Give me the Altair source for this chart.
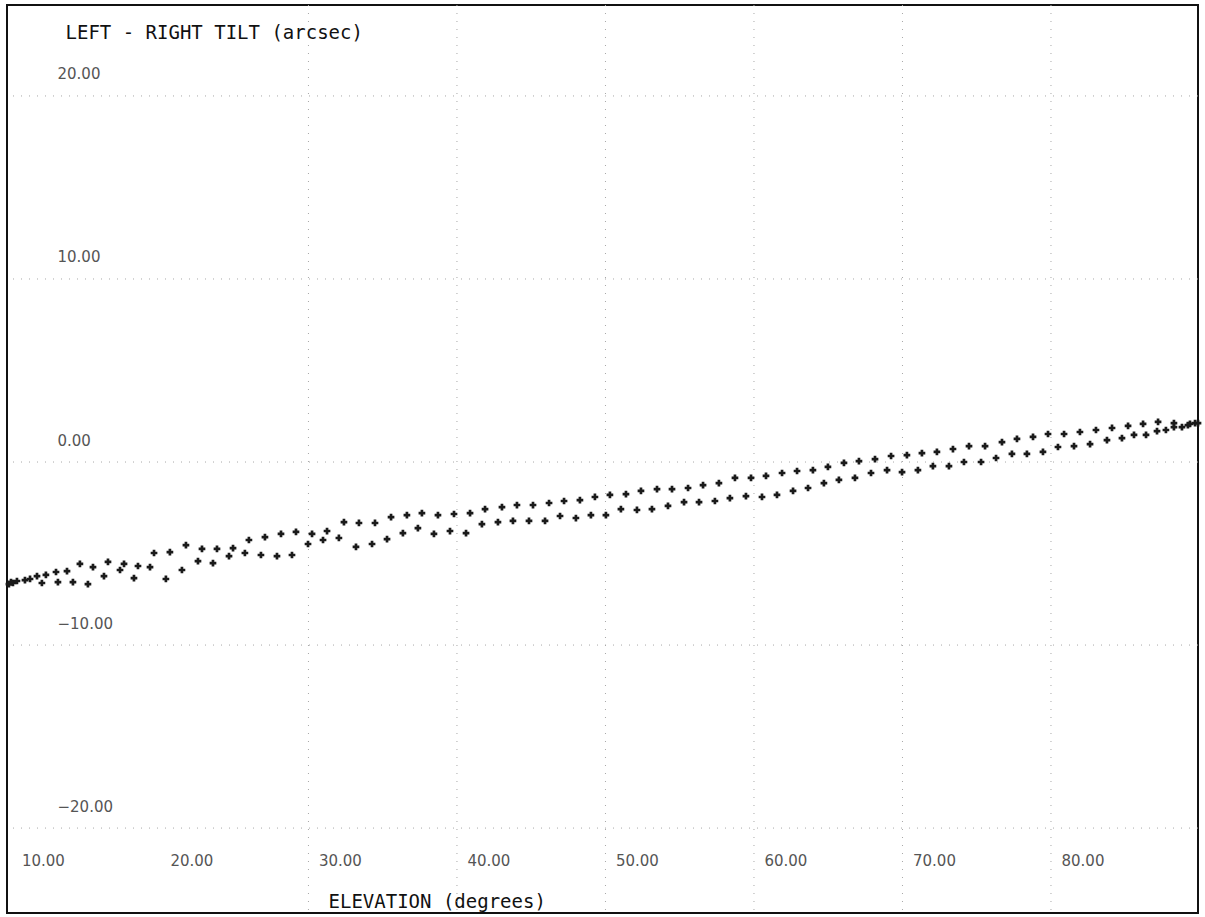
import altair as alt
import pandas as pd

# Scan A (lower row of crosses)
elev_a = [9.83, 10.10, 10.91, 12.05, 13.13, 14.14, 15.15, 16.23, 17.31, 18.25,
          19.33, 20.40, 21.48, 22.56, 23.57, 24.65, 25.72, 26.80, 27.88, 28.89,
          29.97, 30.98, 32.05, 33.20, 34.28, 35.29, 36.36, 37.37, 38.45, 39.53,
          40.61, 41.68, 42.76, 43.77, 44.85, 45.93, 46.94, 48.01, 49.02, 50.03,
          51.04, 52.12, 53.13, 54.21, 55.29, 56.30, 57.37, 58.38, 59.46, 60.54,
          61.55, 62.63, 63.64, 64.71, 65.72, 66.80, 67.88, 68.96, 69.97, 71.04,
          72.05, 73.13, 74.14, 75.29, 76.30, 77.37, 78.38, 79.46, 80.47, 81.55,
          82.63, 83.77, 84.78, 85.59, 86.40, 87.14, 87.74, 88.82, 89.36, 89.90]
tilt_a = [-6.67, -6.61, -6.45, -6.61, -6.56, -6.56, -6.67, -6.23, -5.90, -6.34,
          -5.74, -6.39, -5.90, -5.41, -5.52, -5.14, -4.97, -5.08, -5.14, -5.08,
          -4.48, -4.26, -4.15, -4.64, -4.48, -4.21, -3.88, -3.61, -3.93, -3.77,
          -3.88, -3.39, -3.28, -3.22, -3.22, -3.22, -2.95, -3.06, -2.90, -2.90,
          -2.57, -2.62, -2.57, -2.40, -2.19, -2.19, -2.13, -1.97, -1.86, -1.91,
          -1.80, -1.58, -1.42, -1.15, -0.98, -0.87, -0.60, -0.44, -0.55, -0.44,
          -0.22, -0.22, 0.00, 0.00, 0.22, 0.44, 0.44, 0.55, 0.82, 0.87,
          0.98, 1.20, 1.31, 1.48, 1.48, 1.69, 1.75, 1.91, 2.08, 2.13]

# Scan B (upper row of crosses)
elev_b = [9.97, 10.37, 11.25, 11.72, 12.32, 13.00, 13.74, 14.61, 15.49, 16.50,
          17.58, 18.52, 19.60, 20.67, 21.75, 22.83, 23.84, 24.92, 25.99, 27.07,
          28.15, 29.16, 30.24, 31.25, 32.39, 33.40, 34.48, 35.56, 36.63, 37.64,
          38.72, 39.80, 40.88, 41.89, 43.03, 44.04, 45.12, 46.20, 47.21, 48.28,
          49.29, 50.30, 51.38, 52.39, 53.47, 54.48, 55.56, 56.57, 57.64, 58.72,
          59.80, 60.81, 61.89, 62.90, 63.97, 64.98, 66.06, 67.07, 68.15, 69.23,
          70.30, 71.31, 72.32, 73.40, 74.48, 75.56, 76.70, 77.71, 78.79, 79.80,
          80.88, 81.95, 83.03, 84.11, 85.19, 86.20, 87.21, 88.28, 88.28, 89.22,
          89.70]
tilt_b = [-6.56, -6.50, -6.39, -6.23, -6.17, -6.01, -5.96, -5.57, -5.74, -5.46,
          -5.57, -5.68, -4.97, -4.92, -4.54, -4.75, -4.75, -4.70, -4.26, -4.10,
          -3.93, -3.82, -3.93, -3.77, -3.28, -3.33, -3.33, -3.01, -2.90, -2.79,
          -2.90, -2.84, -2.79, -2.57, -2.46, -2.35, -2.35, -2.24, -2.13, -2.08,
          -1.91, -1.80, -1.75, -1.58, -1.48, -1.48, -1.42, -1.26, -1.15, -0.87,
          -0.87, -0.76, -0.60, -0.49, -0.44, -0.27, -0.05, 0.05, 0.16, 0.33,
          0.38, 0.49, 0.55, 0.71, 0.87, 0.87, 1.09, 1.26, 1.37, 1.53,
          1.53, 1.64, 1.75, 1.86, 1.97, 2.08, 2.19, 2.13, 1.91, 2.02,
          2.13]

x_ticks = [10, 20, 30, 40, 50, 60, 70, 80]
y_ticks = [-20, -10, 0, 10, 20]
x_grid = [30, 40, 50, 60, 70, 80]
y_grid = [-20, -10, 0, 10, 20]

df = pd.DataFrame({
    "elev": elev_a + elev_b,
    "tilt": tilt_a + tilt_b,
    "scan": ["A"] * len(elev_a) + ["B"] * len(elev_b),
})

xs = alt.Scale(domain=[9.7, 89.9], nice=False, zero=False)
ys = alt.Scale(domain=[-24.64, 24.97], nice=False, zero=False)

x_axis = alt.Axis(
    values=x_ticks, format=".2f", grid=False, ticks=False, tickSize=0, domain=False,
    labelAlign="left", labelBaseline="middle", labelOffset=10, labelPadding=-53,
    labelFont="DejaVu Sans", labelFontSize=15, labelColor="#555",
    labelFlush=False, labelOverlap=False, labelBound=False,
    title="ELEVATION (degrees)", titleFont="DejaVu Sans Mono", titleFontSize=19,
    titleFontWeight="normal", titleColor="#111", titleAlign="left",
    titleBaseline="alphabetic", titleAnchor="start", titleX=321, titleY=-6,
)
y_axis = alt.Axis(
    values=y_ticks, format=".2f", grid=False, ticks=False, tickSize=0, domain=False,
    labelAlign="left", labelBaseline="middle", labelOffset=-22, labelPadding=-50,
    labelFont="DejaVu Sans", labelFontSize=15, labelColor="#555",
    labelFlush=False, labelOverlap=False, labelBound=False,
    title="LEFT - RIGHT TILT (arcsec)", titleFont="DejaVu Sans Mono", titleFontSize=19,
    titleFontWeight="normal", titleColor="#111", titleAngle=0, titleAlign="left",
    titleBaseline="alphabetic", titleAnchor="start", titleX=58, titleY=33,
)

vgrid = alt.Chart(pd.DataFrame({"elev": x_grid})).mark_rule(
    color="#a8a8a8", strokeDash=[1, 7], strokeWidth=1
).encode(x=alt.X("elev:Q", scale=xs, axis=x_axis))

hgrid = alt.Chart(pd.DataFrame({"tilt": y_grid})).mark_rule(
    color="#a8a8a8", strokeDash=[1, 7], strokeWidth=1
).encode(y=alt.Y("tilt:Q", scale=ys, axis=y_axis))

points = alt.Chart(df).mark_point(
    shape="cross", filled=True, size=45, color="#1a1a1a", opacity=1
).encode(
    x=alt.X("elev:Q", scale=xs, axis=x_axis),
    y=alt.Y("tilt:Q", scale=ys, axis=y_axis),
    detail="scan:N",
)

chart = alt.layer(vgrid, hgrid, points).properties(
    width=1191,
    height=908,
    autosize=alt.AutoSizeParams(type="none"),
    padding={"left": 7, "top": 5, "right": 7, "bottom": 4},
    background="white",
).configure_view(stroke="#111", strokeWidth=2)

chart.save("out.html", embed_options={"renderer": "svg", "actions": False})
